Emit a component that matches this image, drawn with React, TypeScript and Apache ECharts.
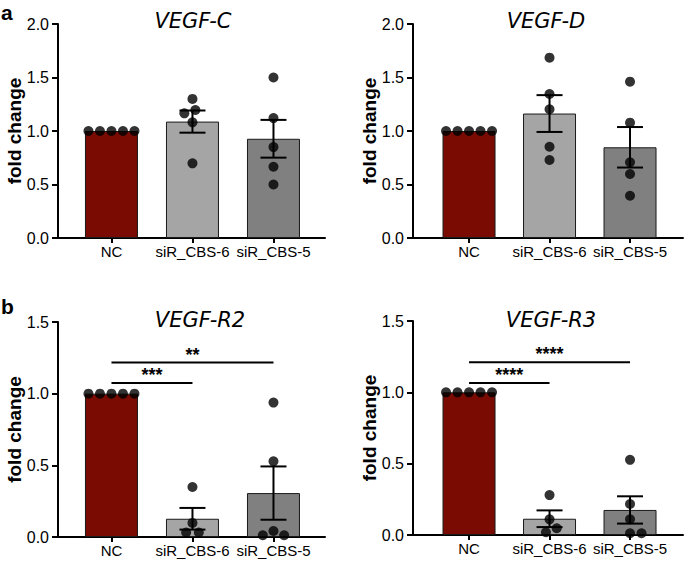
import React, { useEffect, useRef } from "react";
import * as echarts from "echarts";

// ---------- data ----------
const categories = ["NC", "siR_CBS-6", "siR_CBS-5"];
const panelTitles = ["VEGF-C", "VEGF-D", "VEGF-R2", "VEGF-R3"];
const panelLetters = ["a", "b"];
const yAxisName = "fold change";
const yMaxes = [2.0, 2.0, 1.5, 1.5];

const vegfC_NC = [1, 1, 1, 1, 1];
const vegfC_CBS6 = [1.3, 1.196, 1.165, 1.081, 0.698];
const vegfC_CBS5 = [1.5, 1.121, 0.85, 0.666, 0.5];

const vegfD_NC = [1, 1, 1, 1, 1];
const vegfD_CBS6 = [1.685, 1.346, 1.203, 0.853, 0.729];
const vegfD_CBS5 = [1.461, 1.078, 0.707, 0.598, 0.395];

const vegfR2_NC = [1, 1, 1, 1, 1];
const vegfR2_CBS6 = [0.349, 0.098, 0.031, 0.031];
const vegfR2_CBS5 = [0.938, 0.528, 0.042, 0.012, 0.012];

const vegfR3_NC = [1, 1, 1, 1, 1];
const vegfR3_CBS6 = [0.28, 0.11, 0.047, 0.019];
const vegfR3_CBS5 = [0.527, 0.217, 0.11, 0.012, 0.012];

// significance brackets: [fromCategory, toCategory, level, label]
const r2Sig: [number, number, number, string][] = [
  [0, 1, 1.075, "***"],
  [0, 2, 1.217, "**"],
];
const r3Sig: [number, number, number, string][] = [
  [0, 1, 1.066, "****"],
  [0, 2, 1.211, "****"],
];

const panelData = [
  [vegfC_NC, vegfC_CBS6, vegfC_CBS5],
  [vegfD_NC, vegfD_CBS6, vegfD_CBS5],
  [vegfR2_NC, vegfR2_CBS6, vegfR2_CBS5],
  [vegfR3_NC, vegfR3_CBS6, vegfR3_CBS5],
];
const panelSig = [[], [], r2Sig, r3Sig];

// ---------- layout / style ----------
const layouts = [
  { left: 58, top: 24, width: 267, height: 214, xMin: -0.66, xMax: 2.636, titleX: 193, titleY: 21, nameX: 14, letter: 0, letterY: 12 },
  { left: 413, top: 24, width: 270, height: 214, xMin: -0.696, xMax: 2.658, titleX: 546, titleY: 21, nameX: 369, letter: -1, letterY: 0 },
  { left: 58, top: 322, width: 267, height: 215, xMin: -0.66, xMax: 2.636, titleX: 200, titleY: 320, nameX: 14, letter: 1, letterY: 306 },
  { left: 413, top: 321, width: 270, height: 214, xMin: -0.696, xMax: 2.658, titleX: 551, titleY: 320, nameX: 369, letter: -1, letterY: 0 },
];
const barColors = ["#790b02", "#a5a5a5", "#808080"];
const FONT = "'Liberation Sans', Arial, sans-serif";
const DOT = 10;
const SWARM_D = 11.5;
const CAP_HALF = 13;

function mean(a: number[]) {
  return a.reduce((s, v) => s + v, 0) / a.length;
}
function sem(a: number[]) {
  if (a.length < 2) return 0;
  const m = mean(a);
  const v = a.reduce((s, x) => s + (x - m) * (x - m), 0) / (a.length - 1);
  return Math.sqrt(v) / Math.sqrt(a.length);
}
function swarm(values: number[], pxPerY: number, D: number) {
  const placed: { x: number; y: number }[] = [];
  const out: number[] = [];
  for (const v of values) {
    const y = v * pxPerY;
    const cands = [0];
    for (const p of placed) {
      const dy = Math.abs(p.y - y);
      if (dy < D) {
        const dx = Math.sqrt(D * D - dy * dy);
        cands.push(p.x + dx, p.x - dx);
      }
    }
    cands.sort((a, b) => Math.abs(a) - Math.abs(b) || b - a);
    let chosen = 0;
    for (const c of cands) {
      if (placed.every((p) => (p.x - c) ** 2 + (p.y - y) ** 2 >= D * D - 1e-6)) {
        chosen = c;
        break;
      }
    }
    placed.push({ x: chosen, y });
    out.push(chosen);
  }
  return out;
}

function buildOption() {
  const grid: any[] = [];
  const xAxis: any[] = [];
  const yAxis: any[] = [];
  const series: any[] = [];
  const graphic: any[] = [];

  layouts.forEach((L, i) => {
    const yMax = yMaxes[i];
    grid.push({ left: L.left, top: L.top, width: L.width, height: L.height });
    xAxis.push({
      gridIndex: i,
      type: "value",
      min: L.xMin,
      max: L.xMax,
      splitLine: { show: false },
      axisLine: { show: true, onZero: false, lineStyle: { color: "#000", width: 2 } },
      axisTick: { show: true, customValues: [0, 1, 2], length: 5, lineStyle: { color: "#000", width: 2 } },
      axisLabel: {
        customValues: [0, 1, 2],
        formatter: (v: number) => categories[Math.round(v)] ?? "",
        fontSize: 15,
        fontFamily: FONT,
        color: "#000",
        margin: 6,
      },
    });
    yAxis.push({
      gridIndex: i,
      type: "value",
      min: 0,
      max: yMax,
      interval: 0.5,
      splitLine: { show: false },
      axisLine: { show: true, onZero: false, lineStyle: { color: "#000", width: 2 } },
      axisTick: { show: true, length: 6, lineStyle: { color: "#000", width: 2 } },
      axisLabel: {
        formatter: (v: number) => v.toFixed(1),
        fontSize: 16,
        fontFamily: FONT,
        color: "#000",
        margin: 9,
      },
    });

    const groups = panelData[i];
    const pxPerX = L.width / (L.xMax - L.xMin);
    const pxPerY = L.height / yMax;

    series.push({
      type: "bar",
      xAxisIndex: i,
      yAxisIndex: i,
      barWidth: 53,
      z: 2,
      data: groups.map((g, k) => ({
        value: [k, mean(g)],
        itemStyle: { color: barColors[k], borderColor: "#1a1a1a", borderWidth: 1 },
      })),
    });

    series.push({
      type: "custom",
      xAxisIndex: i,
      yAxisIndex: i,
      z: 3,
      data: groups.map((g, k) => [k, mean(g), sem(g)]),
      renderItem: (params: any, api: any) => {
        const x = api.value(0);
        const m = api.value(1);
        const s = api.value(2);
        if (!(s > 0)) return { type: "group", children: [] };
        const top = api.coord([x, m + s]);
        const bot = api.coord([x, m - s]);
        const st = { stroke: "#000", lineWidth: 2 };
        return {
          type: "group",
          children: [
            { type: "line", shape: { x1: top[0], y1: top[1], x2: bot[0], y2: bot[1] }, style: st },
            { type: "line", shape: { x1: top[0] - CAP_HALF, y1: top[1], x2: top[0] + CAP_HALF, y2: top[1] }, style: st },
            { type: "line", shape: { x1: bot[0] - CAP_HALF, y1: bot[1], x2: bot[0] + CAP_HALF, y2: bot[1] }, style: st },
          ],
        };
      },
    });

    const dots: number[][] = [];
    groups.forEach((g, k) => {
      const offs = swarm(g, pxPerY, SWARM_D);
      g.forEach((v, j) => dots.push([k + offs[j] / pxPerX, v]));
    });
    series.push({
      type: "scatter",
      xAxisIndex: i,
      yAxisIndex: i,
      z: 4,
      symbol: "circle",
      symbolSize: DOT,
      itemStyle: { color: "#000" },
      data: dots,
    });

    const sig = panelSig[i];
    if (sig.length) {
      series.push({
        type: "custom",
        xAxisIndex: i,
        yAxisIndex: i,
        z: 3,
        data: sig.map((s) => [s[0], s[1], s[2], s[3]]),
        renderItem: (params: any, api: any) => {
          const d = sig[params.dataIndex];
          const a = api.coord([d[0], d[2]]);
          const b = api.coord([d[1], d[2]]);
          return {
            type: "group",
            children: [
              { type: "line", shape: { x1: a[0], y1: a[1], x2: b[0], y2: b[1] }, style: { stroke: "#000", lineWidth: 2 } },
              {
                type: "text",
                x: (a[0] + b[0]) / 2,
                y: a[1] + 1,
                style: {
                  text: d[3],
                  font: `bold 18px ${FONT}`,
                  fill: "#000",
                  align: "center",
                  verticalAlign: "bottom",
                },
              },
            ],
          };
        },
      });
    }

    graphic.push({
      type: "text",
      x: L.titleX,
      y: L.titleY,
      style: {
        text: panelTitles[i],
        font: `italic 21px 'DejaVu Sans', sans-serif`,
        fill: "#000",
        align: "center",
        verticalAlign: "middle",
      },
    });
    graphic.push({
      type: "text",
      x: L.nameX,
      y: L.top + L.height / 2,
      rotation: Math.PI / 2,
      style: {
        text: yAxisName,
        font: `bold 19px ${FONT}`,
        fill: "#000",
        align: "center",
        verticalAlign: "middle",
      },
    });
    if (L.letter >= 0) {
      graphic.push({
        type: "text",
        x: 1,
        y: L.letterY,
        style: {
          text: panelLetters[L.letter],
          font: `bold 21px ${FONT}`,
          lineHeight: 16,
          fill: "#000",
          align: "left",
          verticalAlign: "middle",
        },
      });
    }
  });

  return { animation: false, backgroundColor: "#fff", grid, xAxis, yAxis, series, graphic };
}

export default function App() {
  const ref = useRef<HTMLDivElement>(null);
  useEffect(() => {
    if (!ref.current) return;
    const chart = echarts.init(ref.current, undefined, { renderer: "svg" });
    chart.setOption(buildOption() as any);
    return () => chart.dispose();
  }, []);
  return <div ref={ref} style={{ position: "absolute", left: 0, top: 0, width: 685, height: 561 }} />;
}
